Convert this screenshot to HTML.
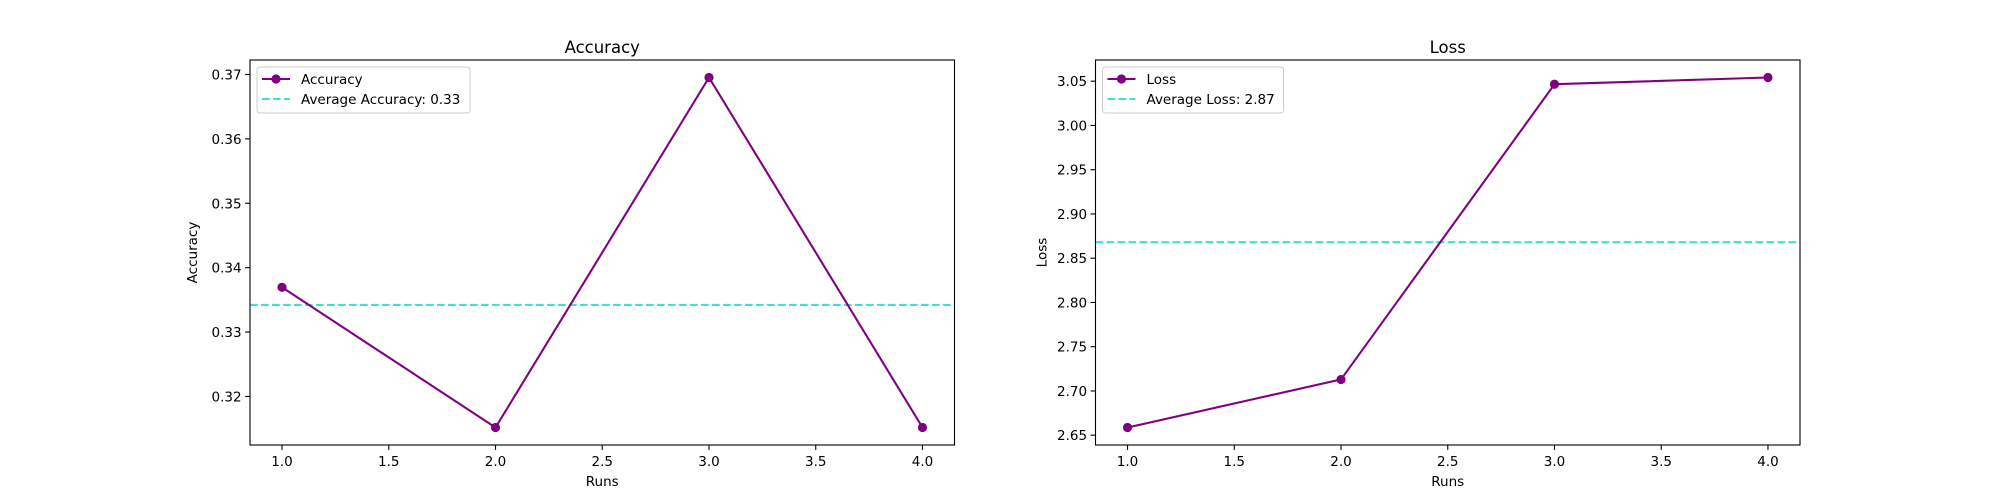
<!DOCTYPE html>
<html><head><meta charset="utf-8"><style>
html,body{margin:0;padding:0;background:#fff;}
svg{display:block;font-family:"DejaVu Sans","Liberation Sans",sans-serif;}
</style></head><body>
<svg id="fig" width="2000" height="500" viewBox="0 0 2000 500" xmlns="http://www.w3.org/2000/svg"></svg>
<script>
const runs = [1, 2, 3, 4];
const accuracyValues = [0.33695, 0.31518, 0.36953, 0.31518];
const lossValues = [2.6587, 2.7130, 3.0466, 3.0542];
const xTicks = [1.0, 1.5, 2.0, 2.5, 3.0, 3.5, 4.0];
const accTicks = [0.32, 0.33, 0.34, 0.35, 0.36, 0.37];
const lossTicks = [2.65, 2.70, 2.75, 2.80, 2.85, 2.90, 2.95, 3.00, 3.05];
const accAverage = accuracyValues.reduce((a,b)=>a+b,0)/accuracyValues.length;
const lossAverage = lossValues.reduce((a,b)=>a+b,0)/lossValues.length;

const NS = "http://www.w3.org/2000/svg";
const svg = document.getElementById('fig');
function mk(tag, attrs, parent){
  const e = document.createElementNS(NS, tag);
  for (const k in attrs) e.setAttribute(k, attrs[k]);
  (parent||svg).appendChild(e);
  return e;
}
function panel(name, L, R, T, B, ys, yTicks, yDec, title, yLabel, legendLabel, avgLabel, avg, yw){
  const g = mk('g', {});
  
  
  const xmin = Math.min(...runs), xmax = Math.max(...runs);
  const xpad = (xmax-xmin)*0.05;
  const x0 = xmin-xpad, x1 = xmax+xpad;
  const ymin = Math.min(...ys), ymax = Math.max(...ys);
  const ypad = (ymax-ymin)*0.05;
  const y0 = ymin-ypad, y1 = ymax+ypad;
  const sx = v => L + (v-x0)/(x1-x0)*(R-L);
  const sy = v => B - (v-y0)/(y1-y0)*(B-T);
  const av = mk('line', {x1:L, x2:R, y1:sy(avg), y2:sy(avg), stroke:'#40e0d0', 'stroke-width':2.08, 'stroke-dasharray':'7.7,3.3'}, g);
  
  
  const pts = runs.map((r,i)=>sx(r)+','+sy(ys[i])).join(' ');
  const pl = mk('polyline', {points:pts, fill:'none', stroke:'#800080', 'stroke-width':2.08, 'stroke-linejoin':'round'}, g);
  
  
  runs.forEach((r,i)=>{
    const c = mk('circle', {cx:sx(r), cy:sy(ys[i]), r:4.6, fill:'#800080'}, g);
    
    
  });
  const fr = mk('rect', {x:L, y:T, width:R-L, height:B-T, fill:'none', stroke:'#000', 'stroke-width':1.1}, g);
  
  
  xTicks.forEach(t=>{
    const x = sx(t);
    mk('line', {x1:x, x2:x, y1:B, y2:B+4.9, stroke:'#000', 'stroke-width':1.1}, g);
    const tx = mk('text', {x:x, y:B+21, 'font-size':13.5, 'text-anchor':'middle', fill:'#000'}, g);
    tx.textContent = t.toFixed(1);
    
    
  });
  yTicks.forEach(t=>{
    const y = sy(t);
    mk('line', {x1:L, x2:L-4.9, y1:y, y2:y, stroke:'#000', 'stroke-width':1.1}, g);
    const tx = mk('text', {x:L-8.4, y:y+5, 'font-size':13.5, 'text-anchor':'end', fill:'#000'}, g);
    tx.textContent = t.toFixed(yDec);
    
    
  });
  const tt = mk('text', {x:(L+R)/2, y:T-7, 'font-size':16.5, 'text-anchor':'middle', fill:'#000'}, g);
  tt.textContent = title;
  
  
  const xl = mk('text', {x:(L+R)/2, y:B+41, 'font-size':13.5, 'text-anchor':'middle', fill:'#000'}, g);
  xl.textContent = 'Runs';
  
  
  const yl = mk('text', {x:0, y:0, 'font-size':13.5, 'text-anchor':'middle', fill:'#000', transform:`translate(${L-yw},${(T+B)/2}) rotate(-90)`}, g);
  yl.textContent = yLabel;
  
  
  const lg = mk('g', {}, g);
  
  
  const lw = legendLabel.length > 5 ? 213 : 181;
  mk('rect', {x:L+7, y:T+7, width:lw, height:46, rx:3, fill:'#fff', 'fill-opacity':0.8, stroke:'#ccc', 'stroke-width':1}, lg);
  mk('line', {x1:L+12, x2:L+40, y1:T+19, y2:T+19, stroke:'#800080', 'stroke-width':2.08}, lg);
  mk('circle', {cx:L+26, cy:T+19, r:4.6, fill:'#800080'}, lg);
  const t1 = mk('text', {x:L+51, y:T+24, 'font-size':13.5, fill:'#000'}, lg);
  t1.textContent = legendLabel;
  
  
  mk('line', {x1:L+12, x2:L+40, y1:T+39, y2:T+39, stroke:'#40e0d0', 'stroke-width':2.08, 'stroke-dasharray':'7.7,3.3'}, lg);
  const t2 = mk('text', {x:L+51, y:T+44, 'font-size':13.5, fill:'#000'}, lg);
  t2.textContent = avgLabel;
  
  
}
panel('accuracy', 250, 954.5, 60, 445, accuracyValues, accTicks, 2, 'Accuracy', 'Accuracy', 'Accuracy', 'Average Accuracy: ' + accAverage.toFixed(2), accAverage, 53);
panel('loss', 1095.5, 1800, 60, 445, lossValues, lossTicks, 2, 'Loss', 'Loss', 'Loss', 'Average Loss: ' + lossAverage.toFixed(2), lossAverage, 49);
</script>
</body></html>
